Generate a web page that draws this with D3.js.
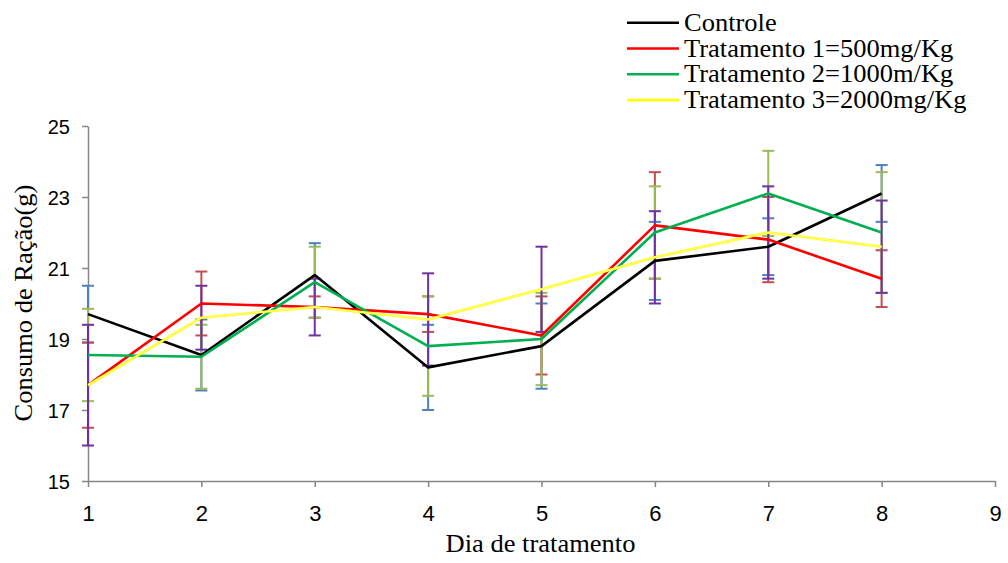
<!DOCTYPE html>
<html>
<head>
<meta charset="utf-8">
<script src="https://cdn.jsdelivr.net/npm/d3@7"></script>
<style>
  html, body { margin: 0; padding: 0; background: #fff; }
  svg { display: block; }
</style>
</head>
<body>
<svg id="chart" width="1008" height="563"></svg>
<script>
const days = [1, 2, 3, 4, 5, 6, 7, 8];
const seriesNames = ["Controle", "Tratamento 1=500mg/Kg", "Tratamento 2=1000m/Kg", "Tratamento 3=2000mg/Kg"];
const controle = [19.7, 18.55, 20.8, 18.2, 18.8, 21.2, 21.6, 23.1];
const trat1 = [17.7, 20.0, 19.9, 19.7, 19.1, 22.2, 21.8, 20.7];
const trat2 = [18.55, 18.5, 20.6, 18.8, 19.0, 22.0, 23.1, 22.0];
const trat3 = [17.7, 19.6, 19.9, 19.55, 20.4, 21.3, 22.0, 21.6];
const errControle = [0.8, 1.0, 0.9, 1.2, 1.2, 1.1, 0.8, 0.8];
const errTrat1 = [1.2, 0.9, 0.3, 0.5, 1.1, 1.5, 1.2, 0.8];
const errTrat2 = [1.3, 0.9, 1.0, 1.4, 1.3, 1.3, 1.2, 1.7];
const errTrat3 = [1.7, 0.9, 0.8, 1.3, 1.2, 1.3, 1.3, 1.3];
const xTicks = [1, 2, 3, 4, 5, 6, 7, 8, 9];
const yTicks = [15, 17, 19, 21, 23, 25];

const lineColors = ["#000000", "#ff0000", "#00b050", "#ffff00"];
const errColors = ["#4f81bd", "#c0504d", "#9bbb59", "#7030a0"];

const series = [controle, trat1, trat2, trat3];
const errs = [errControle, errTrat1, errTrat2, errTrat3];

const svg = d3.select("#chart");
const mLeft = 88, mRight = 995, mTop = 126, mBottom = 481;
const x = d3.scaleLinear().domain([1, 9]).range([mLeft, mRight]);
const y = d3.scaleLinear().domain([15, 25]).range([mBottom, mTop]);

const axisColor = "#868686";
const serif = "'Liberation Serif', 'Times New Roman', serif";
const sans = "'Liberation Sans', Arial, sans-serif";

// Y axis
const yAxis = svg.append("g").attr("transform", `translate(${mLeft},0)`)
  .call(d3.axisLeft(y).tickValues(yTicks).tickSize(6).tickSizeOuter(0).tickPadding(12));
yAxis.select(".domain").attr("stroke", axisColor).attr("stroke-width", 1.5);
yAxis.selectAll(".tick line").attr("stroke", axisColor).attr("stroke-width", 1.5);
yAxis.selectAll(".tick text").attr("font-family", sans)
  .attr("font-size", 20).attr("fill", "#000").attr("dy", "0.36em");

// X axis
const xAxis = svg.append("g").attr("transform", `translate(0,${mBottom})`)
  .call(d3.axisBottom(x).tickValues(xTicks).tickSize(6).tickSizeOuter(0).tickPadding(18).tickFormat(d3.format("d")));
xAxis.select(".domain").attr("stroke", axisColor).attr("stroke-width", 1.5);
xAxis.selectAll(".tick line").attr("stroke", axisColor).attr("stroke-width", 1.5);
xAxis.selectAll(".tick text").attr("font-family", sans)
  .attr("font-size", 22).attr("fill", "#000");

// Error bars
const capHalf = 6;
series.forEach((vals, si) => {
  const g = svg.append("g").attr("stroke", errColors[si]).attr("stroke-width", 2);
  vals.forEach((v, i) => {
    const e = errs[si][i];
    const cx = x(days[i]);
    g.append("line").attr("x1", cx).attr("x2", cx).attr("y1", y(v - e)).attr("y2", y(v + e));
    g.append("line").attr("x1", cx - capHalf).attr("x2", cx + capHalf).attr("y1", y(v + e)).attr("y2", y(v + e));
    g.append("line").attr("x1", cx - capHalf).attr("x2", cx + capHalf).attr("y1", y(v - e)).attr("y2", y(v - e));
  });
});

// Lines
const line = d3.line().x((d, i) => x(days[i])).y(d => y(d));
series.forEach((vals, si) => {
  svg.append("path").datum(vals).attr("d", line).attr("fill", "none")
    .attr("stroke", lineColors[si]).attr("stroke-width", 2.6).attr("stroke-linejoin", "round");
  if (si === 3) {
    svg.append("path").datum(vals).attr("d", line).attr("fill", "none")
      .attr("stroke", "#ffffa0").attr("stroke-width", 0.9);
  }
});

// Axis titles
svg.append("text").attr("transform", `translate(${(mLeft + mRight) / 2 - 1},552) scale(1.06,1)`)
  .attr("text-anchor", "middle").attr("font-family", serif)
  .attr("font-size", 25).attr("fill", "#000").text("Dia de tratamento");
svg.append("text").attr("transform", "translate(32,303) rotate(-90) scale(1.06,1)")
  .attr("text-anchor", "middle").attr("font-family", serif)
  .attr("font-size", 25).attr("fill", "#000").text("Consumo de Ração(g)");

// Legend
const legend = svg.append("g");
seriesNames.forEach((name, i) => {
  const yy = 22.7 + i * 25.8;
  legend.append("line").attr("x1", 627).attr("x2", 679).attr("y1", yy).attr("y2", yy)
    .attr("stroke", lineColors[i]).attr("stroke-width", 2.6);
  legend.append("text").attr("transform", `translate(684,${yy + 8}) scale(1.06,1)`)
    .attr("font-family", serif)
    .attr("font-size", 25).attr("fill", "#000").text(name);
});
</script>
</body>
</html>
